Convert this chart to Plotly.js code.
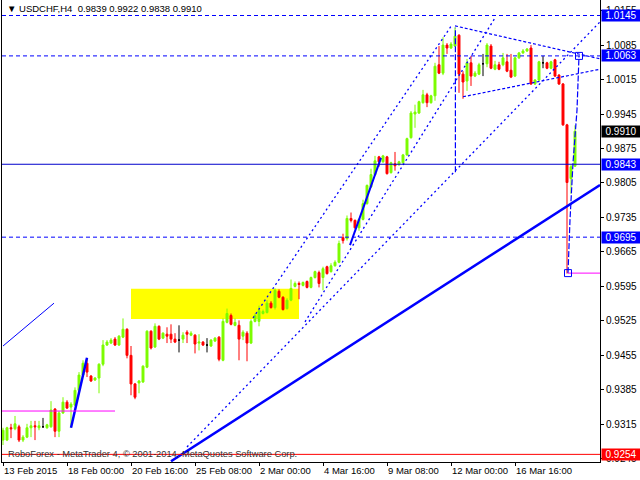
<!DOCTYPE html>
<html><head><meta charset="utf-8">
<script src="https://cdn.plot.ly/plotly-3.0.1.min.js"></script>
<style>html,body{margin:0;padding:0;background:#fff;}#chart{width:640px;height:480px;}</style>
</head><body><div id="chart"></div>
<script>
// ---- data ----
const symbolName = 'USDCHF,H4';
const tickIndex = [0, 16, 32, 48, 64, 80, 96, 112, 128];
const tickLabels = ['13 Feb 2015', '18 Feb 00:00', '20 Feb 16:00', '25 Feb 08:00', '2 Mar 00:00', '4 Mar 16:00', '9 Mar 08:00', '12 Mar 00:00', '16 Mar 16:00'];

const openP = [0.9283,0.9283,0.9308,0.9306,0.9310,0.9283,0.9289,0.9308,0.9312,0.9308,
0.9310,0.9308,0.9310,0.9346,0.9301,0.9338,0.9360,0.9350,0.9354,0.9384,
0.9415,0.9439,0.9413,0.9405,0.9409,0.9437,0.9476,0.9480,0.9488,0.9476,
0.9492,0.9508,0.9455,0.9397,0.9399,0.9401,0.9431,0.9504,0.9472,0.9514,
0.9490,0.9498,0.9498,0.9488,0.9486,0.9488,0.9502,0.9496,0.9496,0.9480,
0.9482,0.9476,0.9474,0.9484,0.9492,0.9445,0.9522,0.9536,0.9516,0.9516,
0.9494,0.9500,0.9480,0.9524,0.9524,0.9540,0.9542,0.9561,0.9552,0.9585,
0.9573,0.9550,0.9567,0.9595,0.9601,0.9597,0.9605,0.9593,0.9613,0.9623,
0.9613,0.9635,0.9625,0.9637,0.9644,0.9694,0.9692,0.9733,0.9729,0.9714,
0.9731,0.9763,0.9797,0.9822,0.9858,0.9848,0.9858,0.9826,0.9844,0.9842,
0.9846,0.9862,0.9897,0.9945,0.9947,0.9968,0.9984,0.9968,0.9982,1.0045,
1.0028,1.0085,1.0079,1.0083,1.0105,1.0026,1.0012,1.0049,1.0022,1.0026,
1.0047,1.0047,1.0083,1.0036,1.0045,1.0045,1.0051,1.0034,1.0022,1.0059,
1.0069,1.0073,1.0079,1.0006,1.0014,1.0049,1.0049,1.0038,1.0055,1.0024,
1.0006,0.9923,0.9814,0.9839];

const highP = [0.9308,0.9310,0.9316,0.9332,0.9314,0.9293,0.9316,0.9322,0.9322,0.9322,
0.9328,0.9316,0.9362,0.9348,0.9342,0.9370,0.9364,0.9360,0.9390,0.9421,
0.9445,0.9449,0.9415,0.9411,0.9439,0.9486,0.9486,0.9490,0.9492,0.9496,
0.9530,0.9510,0.9474,0.9399,0.9405,0.9435,0.9506,0.9506,0.9520,0.9516,
0.9502,0.9512,0.9518,0.9500,0.9516,0.9502,0.9506,0.9504,0.9498,0.9498,
0.9484,0.9490,0.9488,0.9492,0.9494,0.9530,0.9550,0.9540,0.9530,0.9526,
0.9506,0.9504,0.9528,0.9540,0.9556,0.9548,0.9567,0.9565,0.9591,0.9589,
0.9575,0.9571,0.9609,0.9605,0.9605,0.9605,0.9607,0.9615,0.9627,0.9627,
0.9635,0.9637,0.9642,0.9648,0.9688,0.9702,0.9739,0.9745,0.9731,0.9733,
0.9771,0.9802,0.9834,0.9860,0.9860,0.9862,0.9860,0.9848,0.9868,0.9850,
0.9864,0.9897,0.9951,0.9964,0.9972,0.9994,0.9988,0.9984,1.0049,1.0083,
1.0101,1.0089,1.0091,1.0121,1.0107,1.0032,1.0057,1.0063,1.0032,1.0049,
1.0067,1.0089,1.0087,1.0053,1.0051,1.0069,1.0067,1.0067,1.0061,1.0071,
1.0077,1.0079,1.0085,1.0016,1.0053,1.0063,1.0051,1.0053,1.0057,1.0026,
1.0008,0.9925,0.9842,0.9922];

const lowP = [0.9273,0.9281,0.9287,0.9303,0.9279,0.9279,0.9287,0.9289,0.9283,0.9303,
0.9308,0.9306,0.9308,0.9289,0.9289,0.9336,0.9346,0.9308,0.9352,0.9382,
0.9413,0.9411,0.9401,0.9403,0.9378,0.9433,0.9474,0.9478,0.9474,0.9474,
0.9490,0.9449,0.9374,0.9366,0.9378,0.9399,0.9429,0.9467,0.9470,0.9486,
0.9488,0.9480,0.9480,0.9480,0.9461,0.9480,0.9480,0.9494,0.9459,0.9465,
0.9474,0.9461,0.9472,0.9482,0.9443,0.9443,0.9520,0.9516,0.9514,0.9445,
0.9486,0.9443,0.9478,0.9522,0.9514,0.9538,0.9540,0.9550,0.9548,0.9571,
0.9546,0.9548,0.9565,0.9593,0.9569,0.9595,0.9591,0.9591,0.9611,0.9593,
0.9587,0.9619,0.9623,0.9635,0.9642,0.9682,0.9688,0.9725,0.9712,0.9708,
0.9729,0.9761,0.9795,0.9820,0.9838,0.9846,0.9822,0.9824,0.9830,0.9840,
0.9844,0.9860,0.9895,0.9917,0.9945,0.9966,0.9959,0.9966,0.9972,1.0026,
1.0024,1.0067,1.0077,1.0081,0.9988,0.9976,0.9992,1.0002,1.0020,1.0024,
1.0022,1.0040,1.0036,1.0034,1.0034,1.0042,1.0030,1.0018,1.0020,1.0057,
1.0067,1.0071,1.0004,1.0004,1.0012,1.0038,1.0036,1.0036,1.0020,1.0004,
0.9921,0.9621,0.9783,0.9838];

const closeP = [0.9303,0.9308,0.9306,0.9316,0.9283,0.9289,0.9308,0.9312,0.9310,0.9312,
0.9310,0.9314,0.9344,0.9301,0.9338,0.9360,0.9348,0.9356,0.9384,0.9415,
0.9439,0.9421,0.9403,0.9409,0.9437,0.9476,0.9482,0.9486,0.9476,0.9494,
0.9508,0.9455,0.9397,0.9370,0.9403,0.9433,0.9504,0.9470,0.9514,0.9488,
0.9500,0.9494,0.9488,0.9482,0.9486,0.9496,0.9498,0.9500,0.9478,0.9482,
0.9476,0.9476,0.9486,0.9490,0.9447,0.9524,0.9540,0.9518,0.9522,0.9488,
0.9502,0.9480,0.9524,0.9536,0.9546,0.9544,0.9561,0.9552,0.9587,0.9573,
0.9548,0.9567,0.9591,0.9601,0.9599,0.9603,0.9593,0.9613,0.9625,0.9601,
0.9631,0.9621,0.9637,0.9644,0.9682,0.9688,0.9733,0.9729,0.9714,0.9731,
0.9763,0.9800,0.9822,0.9850,0.9848,0.9860,0.9824,0.9846,0.9840,0.9848,
0.9862,0.9895,0.9947,0.9949,0.9970,0.9984,0.9968,0.9982,1.0042,1.0028,
1.0085,1.0079,1.0087,1.0103,1.0026,1.0010,1.0049,1.0022,1.0028,1.0045,
1.0047,1.0085,1.0038,1.0045,1.0036,1.0059,1.0032,1.0020,1.0059,1.0069,
1.0073,1.0077,1.0006,1.0014,1.0051,1.0049,1.0038,1.0051,1.0022,1.0006,
0.9923,0.9806,0.9838,0.9910];

// analysis drawings (bar index, price)
const trendMainX = [42, 149.25],      trendMainY = [0.9240, 0.9801];
const trendLeftX = [0, 12.75],        trendLeftY = [0.9474, 0.9561];
const trendShortX = [17, 21],         trendShortY = [0.9308, 0.9450];
const trendMidX = [86.75, 94.5],      trendMidY = [0.9679, 0.9856];
const channelAX = [62.5, 112.25],     channelAY = [0.9531, 1.0126];
const channelBX = [46, 149.25],       channelBY = [0.9269, 1.0132];
const channelCX = [75.5, 123],        channelCY = [0.9523, 1.0140];
const triUpperX = [113, 149.25],      triUpperY = [1.0124, 1.0057];
const triLowerX = [115, 149.25],      triLowerY = [0.9980, 1.0036];
const dropX = [113.1, 113.1],         dropY = [0.9827, 1.0120];
const reboundX = [141.25, 141.75, 142.5, 143.5, 144];
const reboundY = [0.9622, 0.9730, 0.9846, 0.9953, 1.0063];
const pivotX = [141.25, 144],         pivotY = [0.9622, 1.0063];
const magentaLeftX = [-0.25, 28],     magentaLeftY = [0.9342, 0.9342];
const magentaRightX = [141.25, 149.25], magentaRightY = [0.9622, 0.9622];
const zoneX = [32, 74],               zoneY = [0.9529, 0.9590];
const levelPrices = [1.0145, 1.0063, 0.9843, 0.9695, 0.9254];
const bidPrice = 0.9910;

// ---- build ----
const FONT = 'Liberation Sans, Arial, sans-serif';
const idx = openP.map((_, i) => i);
const isDoji = i => openP[i] === closeP[i];
const mainI = idx.filter(i => !isDoji(i));
const dojiI = idx.filter(i => isDoji(i));
const pick = (arr, ids) => ids.map(i => arr[i]);

const GREEN = '#7cfc00', RED = '#ff0000', BLUE = '#0000ff';

const traces = [
  {type: 'candlestick', x: mainI, open: pick(openP, mainI), high: pick(highP, mainI), low: pick(lowP, mainI), close: pick(closeP, mainI),
   increasing: {line: {color: GREEN, width: 1}, fillcolor: GREEN},
   decreasing: {line: {color: RED, width: 1}, fillcolor: RED},
   whiskerwidth: 0, hoverinfo: 'skip', showlegend: false},
  {type: 'candlestick', x: dojiI, open: pick(openP, dojiI), high: pick(highP, dojiI), low: pick(lowP, dojiI), close: pick(closeP, dojiI),
   increasing: {line: {color: '#000', width: 1}, fillcolor: '#000'},
   decreasing: {line: {color: '#000', width: 1}, fillcolor: '#000'},
   whiskerwidth: 0, hoverinfo: 'skip', showlegend: false}
];
function addLine(x, y, color, width, dash) {
  traces.push({type: 'scatter', mode: 'lines', x: x, y: y, line: {color: color, width: width, dash: dash || 'solid'}, hoverinfo: 'skip', showlegend: false});
}
addLine(trendMainX, trendMainY, BLUE, 2.5);
addLine(trendLeftX, trendLeftY, BLUE, 1);
addLine(trendShortX, trendShortY, BLUE, 2.5);
addLine(trendMidX, trendMidY, BLUE, 2);
addLine(channelAX, channelAY, BLUE, 1.3, '2px,3px');
addLine(channelBX, channelBY, BLUE, 1.3, '2px,3px');
addLine(channelCX, channelCY, BLUE, 1.3, '2px,3px');
addLine(triUpperX, triUpperY, BLUE, 1.2, '3px,2px');
addLine(triLowerX, triLowerY, BLUE, 1.2, '3px,2px');
addLine(dropX, dropY, BLUE, 1.2, '6px,2px');
addLine(reboundX, reboundY, BLUE, 1.2, '6px,2px');
addLine(magentaLeftX, magentaLeftY, '#ff00ff', 1);
addLine(magentaRightX, magentaRightY, '#ff00ff', 1);
traces.push({type: 'scatter', mode: 'markers', x: pivotX, y: pivotY,
  marker: {symbol: 'square-open', size: 7, color: BLUE, line: {width: 1, color: BLUE}}, hoverinfo: 'skip', showlegend: false});

const levelStyle = [
  {color: BLUE, dash: '4px,3px', bg: BLUE},
  {color: BLUE, dash: '4px,3px', bg: BLUE},
  {color: '#0000cc', dash: 'solid', bg: BLUE},
  {color: BLUE, dash: '4px,3px', bg: BLUE},
  {color: RED, dash: 'solid', bg: RED}
];
const shapes = [
  {type: 'rect', xref: 'x', yref: 'y', x0: zoneX[0], x1: zoneX[1], y0: zoneY[0], y1: zoneY[1],
   fillcolor: '#ffff00', line: {width: 0}, layer: 'below'}
];
const annotations = [];
levelPrices.forEach((p, k) => {
  shapes.push({type: 'line', xref: 'paper', yref: 'y', x0: 0, x1: 1, y0: p, y1: p,
    line: {color: levelStyle[k].color, width: 1, dash: levelStyle[k].dash}});
  annotations.push({xref: 'paper', yref: 'y', x: 1, y: p, xanchor: 'left', yanchor: 'middle', xshift: 1,
    text: p.toFixed(4), showarrow: false, bgcolor: levelStyle[k].bg, width: 38, height: 11, borderpad: 0,
    font: {family: FONT, size: 10, color: '#fff'}});
});
annotations.push({xref: 'paper', yref: 'y', x: 1, y: bidPrice, xanchor: 'left', yanchor: 'middle', xshift: 1,
  text: bidPrice.toFixed(4), showarrow: false, bgcolor: '#000', width: 38, height: 11, borderpad: 0,
  font: {family: FONT, size: 10, color: '#fff'}});
const last = openP.length - 1;
annotations.push({xref: 'paper', yref: 'paper', x: 0, y: 1, xanchor: 'left', yanchor: 'top', xshift: 3, yshift: -1,
  text: '▼ ' + symbolName + '&nbsp;&nbsp;' + [openP[last], highP[last], lowP[last], closeP[last]].map(v => v.toFixed(4)).join(' '),
  showarrow: false, font: {family: FONT, size: 9.5, color: '#000'}});
annotations.push({xref: 'paper', yref: 'paper', x: 0, y: 0, xanchor: 'left', yanchor: 'bottom', xshift: 4, yshift: 1,
  text: 'RoboForex - MetaTrader 4, © 2001-2014, MetaQuotes Software Corp.',
  showarrow: false, font: {family: FONT, size: 9.3, color: '#333333'}});

const layout = {
  width: 640, height: 480,
  margin: {l: 2, r: 40, t: 0, b: 18, pad: 0},
  paper_bgcolor: '#ffffff', plot_bgcolor: '#ffffff',
  showlegend: false, hovermode: false,
  xaxis: {range: [-0.25, 149.25], showgrid: false, zeroline: false, showline: true, linecolor: '#000', linewidth: 1,
    tickmode: 'array', tickvals: tickIndex, ticktext: tickLabels, ticks: 'outside', ticklen: 3, tickcolor: '#000',
    tickangle: 0, ticklabelposition: 'outside right', tickfont: {family: FONT, size: 9.5, color: '#000'},
    rangeslider: {visible: false}, fixedrange: true},
  yaxis: {side: 'right', range: [0.92385, 1.01765], showgrid: false, zeroline: false, showline: true, mirror: true,
    linecolor: '#000', linewidth: 1, tick0: 0.9245, dtick: 0.007, tickformat: '.4f', ticks: 'outside', ticklen: 3,
    tickcolor: '#000', tickfont: {family: FONT, size: 10, color: '#000'}, fixedrange: true},
  shapes: shapes, annotations: annotations
};
Plotly.newPlot('chart', traces, layout, {displayModeBar: false, staticPlot: true});
</script></body></html>
